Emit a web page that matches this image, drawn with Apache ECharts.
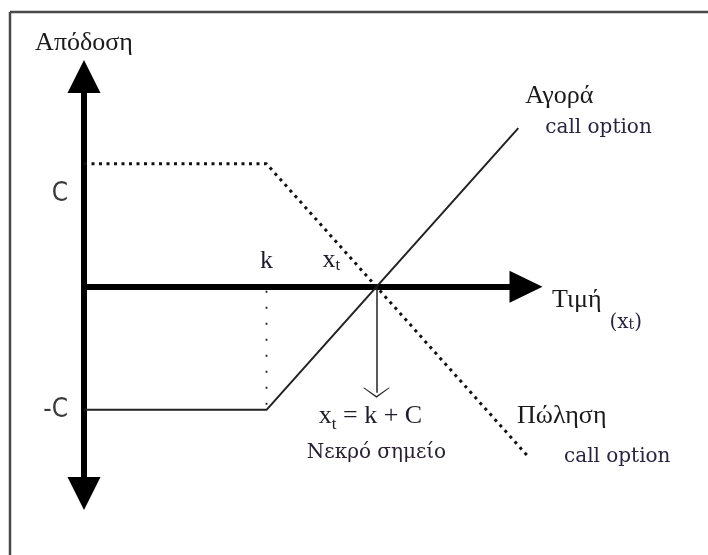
<!DOCTYPE html>
<html>
<head>
<meta charset="utf-8">
<script src="https://cdn.jsdelivr.net/npm/echarts@6/dist/echarts.min.js"></script>
<style>
  html, body { margin: 0; padding: 0; background: #fff; }
  #chart { width: 708px; height: 555px; }
</style>
</head>
<body>
<div id="chart"></div>
<script>
// values of the payoff diagram (x in price units, y in units of the premium C)
const strikeK = 1.66
const premiumC = 1
const breakEven = 2.66
const buyX = [0, 1.66, 3.95]
const buyY = [-1, -1, 1.29]
const sellX = [0, 1.66, 4.06]
const sellY = [1, 1, -1.40]
const yTickValues = [1, -1]
const yTickLabels = ['{up|C}', '-C']
const xTickValues = [1.66, 2.25]
const xTickLabels = ['{a|k}', '{a|x}{s|t}']
const arrowDrop = -0.86

const big = 'Liberation Serif'
const small = 'DejaVu Serif'
const ink = '#1a1a1a'
const tint = '#2a2440'

const pairs = (xs, ys) => xs.map((x, i) => [x, ys[i]])

const chart = echarts.init(document.getElementById('chart'), null, { renderer: 'canvas' })

const option = {
  animation: false,
  backgroundColor: '#fff',
  grid: { left: 84, right: 182, top: 76.5, bottom: 61.5, outerBoundsMode: 'none' },
  // frame of the original figure (top and left edges only)
  graphic: [
    { type: 'line', shape: { x1: 10, y1: 12, x2: 708, y2: 12 }, style: { stroke: '#4a4a4a', lineWidth: 2.5 } },
    { type: 'line', shape: { x1: 10, y1: 12, x2: 10, y2: 555 }, style: { stroke: '#4a4a4a', lineWidth: 2.5 } }
  ],
  xAxis: {
    type: 'value',
    min: 0,
    max: 4.02,
    name: '{n|Τιμή}{s|(x}{st|t}{s|)}',
    nameLocation: 'end',
    nameGap: 26,
    nameTextStyle: {
      verticalAlign: 'top',
      rich: {
        n: { fontFamily: big, fontSize: 26, color: ink, verticalAlign: 'top', lineHeight: 26, padding: [0, 8, 0, 0] },
        s: { fontFamily: small, fontSize: 20, color: tint, verticalAlign: 'bottom', lineHeight: 46 },
        st: { fontFamily: small, fontSize: 14, color: tint, verticalAlign: 'bottom', lineHeight: 40 }
      }
    },
    axisLine: {
      onZero: true,
      symbol: ['none', 'triangle'],
      symbolSize: [32, 33],
      lineStyle: { color: '#000', width: 6 }
    },
    axisTick: { show: false },
    splitLine: { show: false },
    axisLabel: { show: false }
  },
  yAxis: {
    type: 'value',
    min: -1.68,
    max: 1.71,
    name: 'Απόδοση',
    nameLocation: 'end',
    nameGap: 20,
    nameTextStyle: { fontFamily: big, fontSize: 26, color: ink, align: 'center' },
    axisLine: {
      onZero: false,
      symbol: ['triangle', 'triangle'],
      symbolSize: [33, 33],
      lineStyle: { color: '#000', width: 6 }
    },
    axisTick: { show: false },
    splitLine: { show: false },
    axisLabel: {
      margin: 16,
      customValues: yTickValues,
      formatter: (v) => yTickLabels[yTickValues.indexOf(v)] || '',
      fontFamily: "'Liberation Sans Narrow', 'DejaVu Sans Condensed', sans-serif",
      fontSize: 26,
      color: '#3a3a3a',
      rich: {
        up: {
          fontFamily: "'Liberation Sans Narrow', 'DejaVu Sans Condensed', sans-serif",
          fontSize: 26, color: '#3a3a3a', padding: [60, 0, 0, 0]
        }
      }
    }
  },
  series: [
    {
      name: 'Αγορά call option',
      type: 'line',
      data: pairs(buyX, buyY),
      symbol: 'none',
      clip: false,
      lineStyle: { color: '#222', width: 2 },
      endLabel: {
        show: true,
        distance: 0,
        offset: [7, -17],
        align: 'left',
        verticalAlign: 'middle',
        formatter: '{g|Αγορά}\n{c|call option}',
        rich: {
          g: { fontFamily: big, fontSize: 26, color: ink, lineHeight: 34 },
          c: { fontFamily: small, fontSize: 20, color: tint, lineHeight: 30, padding: [0, 0, 0, 20] }
        }
      },
      markLine: {
        silent: true,
        symbol: ['none', 'path://M0,10 L13.5,0 L27,10 L25.5,10 L13.5,1.6 L1.5,10 Z'],
        symbolSize: [27, 10],
        lineStyle: { color: '#222', width: 1.5, type: 'solid' },
        label: {
          show: true,
          position: 'end',
          distance: 8,
          formatter: '{x|x}{t|t}{x| = k + C}{pad|}\n{n|Νεκρό σημείο}',
          rich: {
            x: { fontFamily: big, fontSize: 26, color: '#1e1a28', lineHeight: 32 },
            t: { fontFamily: big, fontSize: 17, color: '#1e1a28', lineHeight: 22, verticalAlign: 'bottom' },
            pad: { width: 12 },
            n: { fontFamily: small, fontSize: 20, color: '#2a2030', lineHeight: 40 }
          }
        },
        data: [[{ coord: [breakEven, 0] }, { coord: [breakEven, arrowDrop] }]]
      }
    },
    {
      name: 'Πώληση call option',
      type: 'line',
      data: pairs(sellX, sellY),
      symbol: 'none',
      clip: false,
      lineStyle: { color: '#111', width: 3, type: [3, 4.5], cap: 'butt' },
      endLabel: {
        show: true,
        distance: 0,
        offset: [-11, -17],
        align: 'left',
        verticalAlign: 'middle',
        formatter: '{g|Πώληση}\n{c|call option}',
        rich: {
          g: { fontFamily: big, fontSize: 26, color: ink, lineHeight: 34 },
          c: { fontFamily: small, fontSize: 20, color: tint, lineHeight: 46, padding: [0, 0, 0, 47] }
        }
      }
    },
    {
      name: 'k',
      type: 'line',
      data: [[strikeK, 0], [strikeK, -premiumC]],
      symbol: 'none',
      lineStyle: { color: '#222', width: 1.8, type: [1.8, 14.2], dashOffset: -4 }
    },
    {
      name: 'x labels',
      type: 'scatter',
      data: xTickValues.map((x) => [x, 0]),
      symbolSize: 0,
      silent: true,
      itemStyle: { opacity: 1 },
      label: {
        show: true,
        position: 'top',
        distance: 13,
        color: '#1e1a28',
        opacity: 1,
        formatter: (p) => xTickLabels[p.dataIndex],
        rich: {
          a: { fontFamily: big, fontSize: 26, color: '#1e1a28' },
          s: { fontFamily: big, fontSize: 17, color: '#1e1a28', padding: [10, 0, 0, 0] }
        }
      }
    }
  ]
}

chart.setOption(option)
</script>
</body>
</html>
